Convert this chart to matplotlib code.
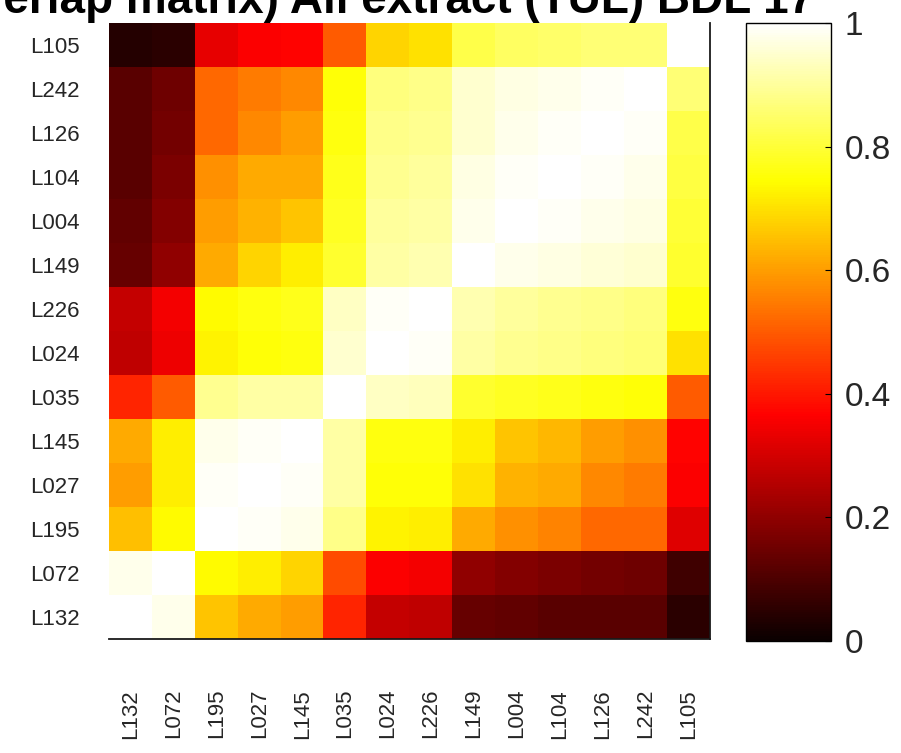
import numpy as np
import matplotlib
matplotlib.use("Agg")
import matplotlib.pyplot as plt

plt.rcParams['font.family'] = ['Liberation Sans', 'DejaVu Sans']

# column labels (left to right) and row labels (top to bottom)
col_labels = ['L132', 'L072', 'L195', 'L027', 'L145', 'L035', 'L024',
              'L226', 'L149', 'L004', 'L104', 'L126', 'L242', 'L105']
row_labels = ['L105', 'L242', 'L126', 'L104', 'L004', 'L149', 'L226',
              'L024', 'L035', 'L145', 'L027', 'L195', 'L072', 'L132']

# overlap values, one list per displayed row (top to bottom)
r_L105 = [0.04, 0.05, 0.33, 0.36, 0.37, 0.50, 0.68, 0.70, 0.82, 0.84, 0.85, 0.86, 0.86, 1.00]
r_L242 = [0.12, 0.15, 0.52, 0.55, 0.57, 0.75, 0.87, 0.88, 0.95, 0.97, 0.98, 0.99, 1.00, 0.86]
r_L126 = [0.12, 0.16, 0.52, 0.57, 0.60, 0.76, 0.88, 0.89, 0.95, 0.98, 0.99, 1.00, 0.99, 0.82]
r_L104 = [0.12, 0.17, 0.58, 0.62, 0.62, 0.77, 0.89, 0.90, 0.97, 0.99, 1.00, 0.99, 0.98, 0.81]
r_L004 = [0.13, 0.18, 0.60, 0.63, 0.66, 0.78, 0.90, 0.91, 0.98, 1.00, 0.99, 0.98, 0.97, 0.80]
r_L149 = [0.14, 0.20, 0.62, 0.68, 0.72, 0.79, 0.91, 0.92, 1.00, 0.98, 0.97, 0.96, 0.95, 0.79]
r_L226 = [0.28, 0.35, 0.74, 0.76, 0.77, 0.94, 0.99, 1.00, 0.92, 0.90, 0.89, 0.88, 0.87, 0.76]
r_L024 = [0.27, 0.34, 0.73, 0.75, 0.76, 0.95, 1.00, 0.99, 0.91, 0.89, 0.88, 0.87, 0.86, 0.70]
r_L035 = [0.42, 0.50, 0.89, 0.91, 0.91, 1.00, 0.94, 0.93, 0.79, 0.78, 0.77, 0.76, 0.75, 0.50]
r_L145 = [0.62, 0.72, 0.98, 0.99, 1.00, 0.91, 0.76, 0.76, 0.72, 0.66, 0.64, 0.60, 0.58, 0.37]
r_L027 = [0.60, 0.72, 0.99, 1.00, 0.99, 0.91, 0.75, 0.75, 0.70, 0.63, 0.62, 0.57, 0.55, 0.36]
r_L195 = [0.65, 0.74, 1.00, 0.99, 0.98, 0.88, 0.73, 0.72, 0.62, 0.58, 0.56, 0.52, 0.52, 0.32]
r_L072 = [0.98, 1.00, 0.74, 0.72, 0.68, 0.48, 0.36, 0.35, 0.20, 0.18, 0.17, 0.16, 0.15, 0.08]
r_L132 = [1.00, 0.98, 0.66, 0.62, 0.60, 0.42, 0.28, 0.27, 0.14, 0.13, 0.12, 0.12, 0.12, 0.05]

data = np.array([r_L105, r_L242, r_L126, r_L104, r_L004, r_L149, r_L226,
                 r_L024, r_L035, r_L145, r_L027, r_L195, r_L072, r_L132])

title = '(Overlap matrix) All extract (TUL) BDL 17'

W, H = 901, 753
fig = plt.figure(figsize=(W / 100, H / 100), dpi=100)

ax = fig.add_axes([109 / W, 1 - 639 / H, 601 / W, 616 / H])
im = ax.imshow(data, cmap='hot', vmin=0, vmax=1, aspect='auto',
               interpolation='nearest')

ax.set_xticks(np.arange(len(col_labels)))
ax.set_xticklabels(col_labels, rotation=90, va='top', ha='center')
ax.set_yticks(np.arange(len(row_labels)))
ax.set_yticklabels(row_labels)
ax.tick_params(axis='x', length=0, pad=36, labelsize=16, labelcolor='#262626')
ax.tick_params(axis='y', length=0, pad=21, labelsize=16, labelcolor='#262626')
for s in ['top', 'left']:
    ax.spines[s].set_visible(False)
for s in ['right', 'bottom']:
    ax.spines[s].set_linewidth(1.3)
    ax.spines[s].set_color('#1a1a1a')

# colorbar
cax = fig.add_axes([746 / W, 1 - 641 / H, 85 / W, 618 / H])
cb = fig.colorbar(im, cax=cax)
cb.set_ticks([0, 0.2, 0.4, 0.6, 0.8, 1])
cb.set_ticklabels(['0', '0.2', '0.4', '0.6', '0.8', '1'])
cax.tick_params(direction='in', length=4, width=0.8, labelsize=24,
                labelcolor='#262626', pad=10)
cb.outline.set_linewidth(1.0)

# title sits partly above the top edge, as in the source image
fig.text(814 / W, 1 - 13 / H, title, ha='right', va='baseline',
         fontsize=33, fontweight='bold', color='black')

fig.savefig('out.png', dpi=100)
